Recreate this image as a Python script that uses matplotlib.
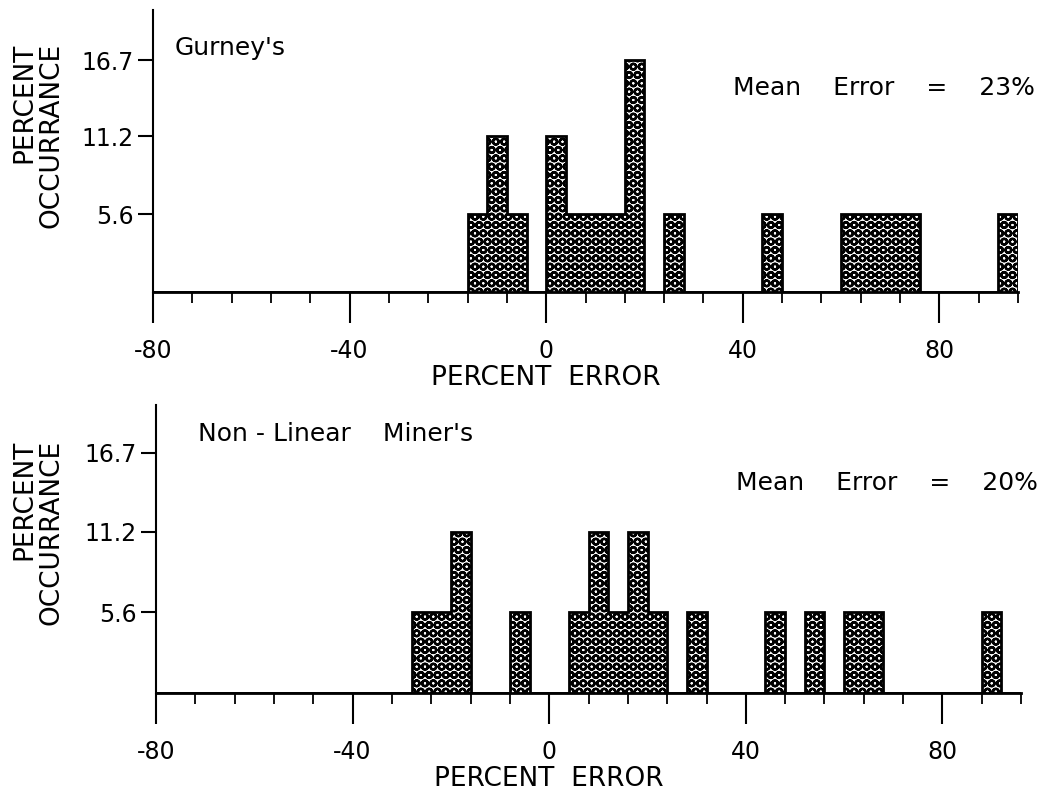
import matplotlib
matplotlib.use('Agg')
import matplotlib.pyplot as plt
import numpy as np
from matplotlib.ticker import MultipleLocator

# bins are 4 % wide, values are percent occurrance
bin_width = 4
gurney_bin_left = [-16, -12, -8, 0, 4, 8, 12, 16, 24, 44, 60, 64, 68, 72, 92]
gurney_pct = [5.6, 11.2, 5.6, 11.2, 5.6, 5.6, 5.6, 16.7, 5.6, 5.6, 5.6, 5.6, 5.6, 5.6, 5.6]

miner_bin_left = [-28, -24, -20, -8, 4, 8, 12, 16, 20, 28, 44, 52, 60, 64, 88]
miner_pct = [5.6, 5.6, 11.2, 5.6, 5.6, 11.2, 5.6, 11.2, 5.6, 5.6, 5.6, 5.6, 5.6, 5.6, 5.6]

x_major = [-80, -40, 0, 40, 80]
x_major_labels = ['-80', '-40', '0', '40', '80']
y_ticks = [5.6, 11.2, 16.7]
y_tick_labels = ['5.6', '11.2', '16.7']

plt.rcParams['font.family'] = 'DejaVu Sans'
plt.rcParams['hatch.linewidth'] = 1.7
plt.rcParams['axes.unicode_minus'] = False

fig = plt.figure(figsize=(10.45, 7.94), dpi=100)


def draw_panel(rect, ymax, bin_left, pct, name, mean_text, name_y, mean_y, name_x):
    ax = fig.add_axes(rect)
    # texture fill, then one merged outline so neighbouring bins join up
    ax.bar(bin_left, pct, width=bin_width, align='edge', facecolor='white',
           edgecolor='black', hatch='OO', linewidth=0)
    edges = np.arange(-80, 96 + bin_width, bin_width)
    heights = np.zeros(len(edges) - 1)
    for left, h in zip(bin_left, pct):
        heights[int((left + 80) // bin_width)] = h
    ax.stairs(heights, edges, baseline=0, color='black', linewidth=2.0)

    ax.set_xlim(-80, 96)
    ax.set_ylim(0, ymax)
    for side in ['top', 'right']:
        ax.spines[side].set_visible(False)
    ax.spines['left'].set_linewidth(1.5)
    ax.spines['bottom'].set_linewidth(2.0)
    ax.set_xticks(x_major, labels=x_major_labels)
    ax.xaxis.set_minor_locator(MultipleLocator(8))
    ax.tick_params(axis='x', which='major', direction='out', length=22, width=1.5,
                   pad=12, labelsize=17)
    ax.tick_params(axis='x', which='minor', direction='out', length=8, width=1.3)
    ax.set_yticks(y_ticks, labels=y_tick_labels)
    ax.tick_params(axis='y', direction='out', length=11, width=1.5, pad=3, labelsize=17)
    ax.set_xlabel('PERCENT  ERROR', fontsize=19, labelpad=1)
    ax.xaxis.label.set_x(80 / 176)
    ax.text(name_x, name_y, name, fontsize=18, ha='left', va='center')
    ax.text(38, mean_y, mean_text, fontsize=18, ha='left', va='center')
    return ax


draw_panel([0.1464, 0.6322, 0.8278, 0.3552], 20.3, gurney_bin_left, gurney_pct,
           "Gurney's", 'Mean    Error    =    23%', 17.6, 14.7, -75.5)
draw_panel([0.1493, 0.1272, 0.8278, 0.3627], 20.0, miner_bin_left, miner_pct,
           "Non - Linear    Miner's", 'Mean    Error    =    20%', 18.0, 14.6, -71.5)

fig.text(38 / 1045, 1 - 135 / 794, 'PERCENT\nOCCURRANCE', rotation=90, fontsize=19,
         ha='center', va='center', multialignment='right', linespacing=1.05)
fig.text(38 / 1045, 1 - 532 / 794, 'PERCENT\nOCCURRANCE', rotation=90, fontsize=19,
         ha='center', va='center', multialignment='right', linespacing=1.05)

fig.savefig('out.png', dpi=100)
